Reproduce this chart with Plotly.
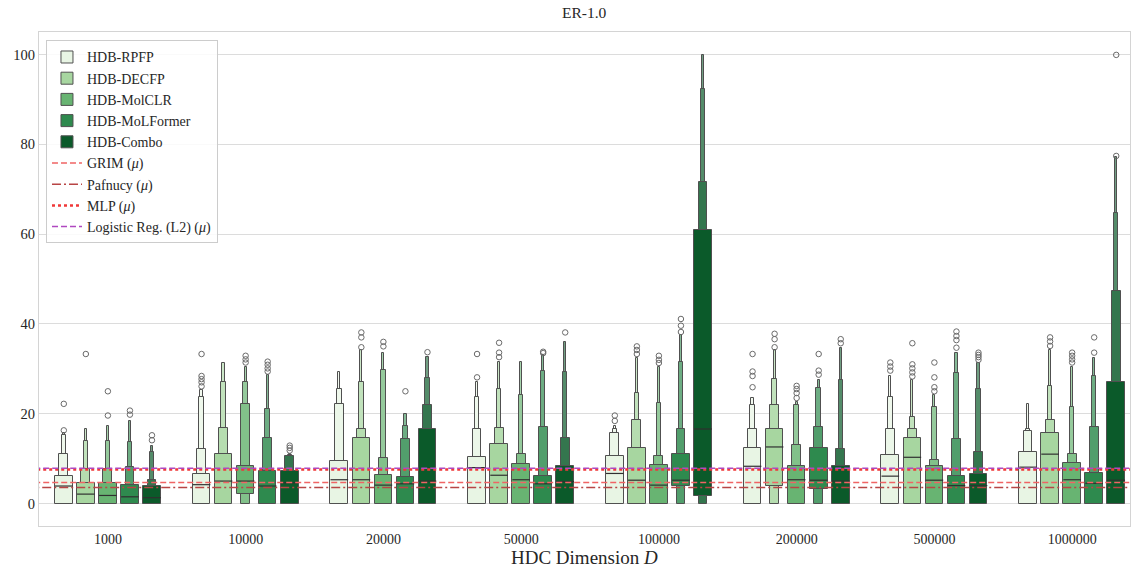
import plotly.graph_objects as go

dims = ["1000", "10000", "20000", "50000", "100000", "200000", "500000", "1000000"]
series = ["HDB-RPFP", "HDB-DECFP", "HDB-MolCLR", "HDB-MoLFormer", "HDB-Combo"]
colors = ["#e8f5e4", "#a7d6a0", "#68b472", "#2e8a4e", "#0b5a2a"]

# Letter-value boxes: upper edge per level (widest box first), lower edge of widest box
rpfp_median = [3.9, 4.2, 5.3, 8.0, 6.7, 8.3, 6.1, 8.1]
rpfp_low = [0, 0, 0, 0, 0, 0, 0, 0]
rpfp_upper = [[6.2, 11.0, 15.2, 15.7], [6.6, 12.1, 23.7, 25.3], [9.4, 22.1, 25.5, 29.3],
              [10.3, 16.6, 23.7, 27.0], [10.5, 15.7, 16.7, 17.2], [12.4, 16.6, 22.0, 23.5],
              [10.7, 16.6, 23.7, 28.4], [11.4, 16.2, 16.7, 22.2]]
rpfp_out = [[16.3, 22.2], [26.1, 27.0, 27.7, 28.4, 33.3], [], [28.1, 33.3],
            [18.4, 19.6], [25.9, 28.4, 29.4, 33.3], [29.6, 30.5, 31.4], []]

decfp_median = [2.1, 5.0, 5.3, 6.3, 5.2, 12.6, 10.3, 11.0]
decfp_low = [0, 0, 0, 0, 0, 3.9, 0, 0]
decfp_upper = [[4.6, 7.6, 14.0, 16.6], [11.0, 16.8, 27.0, 31.4], [14.6, 16.7, 27.0, 34.1],
               [13.3, 16.8, 25.5, 31.5], [12.4, 18.7, 24.7, 32.4], [16.6, 22.0, 27.7, 34.1],
               [14.6, 16.6, 19.2, 27.6], [15.7, 18.7, 26.2, 34.1]]
decfp_out = [[33.3], [], [34.8, 37.0, 38.1], [32.6, 33.6, 35.8], [33.3, 34.2, 35.0],
             [34.8, 36.6, 37.8], [28.3, 29.2, 30.1, 31.0, 35.7], [35.1, 36.1, 37.0]]

molclr_median = [1.8, 5.0, 4.1, 5.3, 4.1, 5.3, 5.2, 5.3]
molclr_low = [0, 2.2, 0, 0, 0, 0, 0, 0]
molclr_upper = [[4.6, 7.6, 14.0, 17.3], [8.4, 22.1, 27.0, 30.4], [6.4, 10.1, 29.8, 33.6],
                [8.9, 11.0, 24.1, 31.5], [8.6, 10.5, 22.4, 30.4], [8.4, 13.0, 22.0, 22.6],
                [8.4, 9.8, 21.6, 24.2], [9.0, 11.0, 21.6, 30.4]]
molclr_out = [[19.6, 25.0], [31.4, 32.1, 32.9], [35.0, 36.0], [], [31.3, 32.0, 32.9],
              [23.5, 24.6, 25.5, 26.2], [25.0, 25.9, 28.1, 31.4], [31.4, 32.1, 32.9, 33.6]]

molformer_median = [1.5, 3.9, 4.4, 4.4, 5.2, 5.2, 4.0, 4.5]
molformer_low = [0, 0, 0, 0, 3.9, 3.3, 0, 0]
molformer_upper = [[4.2, 8.1, 13.6, 18.4], [7.2, 14.6, 21.0, 28.7], [5.9, 14.4, 17.3, 19.9],
                   [6.1, 17.0, 29.6, 33.0], [11.0, 16.6, 31.6, 37.6], [12.4, 17.0, 25.7, 27.6],
                   [6.2, 14.4, 29.0, 33.6], [6.7, 17.0, 28.4, 32.5]]
molformer_out = [[19.8, 20.7], [29.4, 30.1, 30.9, 31.6], [25.0], [33.5, 33.8],
                 [38.2, 39.6, 41.1], [28.7, 29.6, 33.3], [34.7, 36.4, 37.3, 38.3], [33.6, 37.0]]

combo_median = [1.3, 4.6, 5.0, 4.9, 16.6, 5.0, 4.0, 5.2]
combo_low = [0, 0, 0, 0, 1.6, 0, 0, 0]
combo_upper = [[4.0, 5.2, 11.5, 12.9], [7.3, 10.5, 10.8, 11.0], [16.6, 21.9, 27.9, 32.6],
               [8.4, 14.6, 29.2, 35.9], [60.9, 71.5, 92.4, 99.9], [8.3, 12.2, 27.6, 34.6],
               [6.6, 11.4, 25.5, 31.3], [27.0, 47.4, 64.8, 77.2]]
combo_out = [[14.1, 15.2], [11.8, 12.4, 12.9], [33.7], [38.1], [], [35.7, 36.6],
             [32.0, 32.6, 33.1, 33.6], [77.4, 99.9]]

baseline_names = ["GRIM (<i>μ</i>)", "Pafnucy (<i>μ</i>)", "MLP (<i>μ</i>)", "Logistic Reg. (L2) (<i>μ</i>)"]
baseline_values = [4.7, 3.6, 7.6, 7.85]

medians = [rpfp_median, decfp_median, molclr_median, molformer_median, combo_median]
lows = [rpfp_low, decfp_low, molclr_low, molformer_low, combo_low]
uppers = [rpfp_upper, decfp_upper, molclr_upper, molformer_upper, combo_upper]
outs = [rpfp_out, decfp_out, molclr_out, molformer_out, combo_out]

FONT = "Liberation Serif"
EDGE = "#505050"
slot = 0.16
w0 = 0.128
nlev = 4


def lighten(hexc, t):
    r, g, b = int(hexc[1:3], 16), int(hexc[3:5], 16), int(hexc[5:7], 16)
    r = round(r + (255 - r) * t)
    g = round(g + (255 - g) * t)
    b = round(b + (255 - b) * t)
    return f"rgb({r},{g},{b})"


lev_t = [0.0, 0.17, 0.30, 0.42]

fig = go.Figure()
for s, name in enumerate(series):
    xs = [g + (s - 2) * slot for g in range(len(dims))]
    for lev in reversed(range(nlev)):
        w = w0 / (2 ** lev)
        bases = [lows[s][g] if lev == 0 else 0 for g in range(len(dims))]
        tops = [uppers[s][g][lev] for g in range(len(dims))]
        fig.add_trace(go.Bar(
            x=xs, y=[t - b for t, b in zip(tops, bases)], base=bases,
            width=[w] * len(xs), offset=[-w / 2] * len(xs),
            marker=dict(color=lighten(colors[s], lev_t[lev]), line=dict(color=EDGE, width=1)),
            name=name, showlegend=(lev == 0), legendrank=s + 1, hoverinfo="skip"))
    # median lines
    mx, my = [], []
    for g in range(len(dims)):
        mx += [xs[g] - w0 / 2, xs[g] + w0 / 2, None]
        my += [medians[s][g], medians[s][g], None]
    fig.add_trace(go.Scatter(x=mx, y=my, mode="lines", line=dict(color="#303030", width=1.2),
                             showlegend=False, hoverinfo="skip"))
    ox, oy = [], []
    for g in range(len(dims)):
        for v in outs[s][g]:
            ox.append(xs[g])
            oy.append(v)
    fig.add_trace(go.Scatter(x=ox, y=oy, mode="markers",
                             marker=dict(symbol="circle-open", size=5.5, color="#6a6a6a", line=dict(width=1)),
                             showlegend=False, hoverinfo="skip"))

line_styles = [
    dict(color="#f06464", width=1.5, dash="6px,3px"),
    dict(color="#b84545", width=1.5, dash="9px,3px,2px,3px"),
    dict(color="#f03838", width=2.5, dash="dot"),
    dict(color="#b048c0", width=1.5, dash="6px,3px"),
]
for i, (nm, v) in enumerate(zip(baseline_names, baseline_values)):
    fig.add_trace(go.Scatter(x=[-0.6, 7.6], y=[v, v], mode="lines", line=line_styles[i],
                             name=nm, legendrank=10 + i, hoverinfo="skip"))

fig.update_layout(
    width=1131, height=567,
    margin=dict(l=39, r=1, t=31.5, b=40.5, autoexpand=False),
    paper_bgcolor="white", plot_bgcolor="white",
    barmode="overlay", bargap=0,
    font=dict(family=FONT, size=14, color="#262626"),
    legend=dict(x=0.0064, y=0.983, xanchor="left", yanchor="top",
                bgcolor="rgba(255,255,255,0.85)", bordercolor="#cccccc", borderwidth=1,
                font=dict(family=FONT, size=14, color="#262626"), itemwidth=30,
                tracegroupgap=0, traceorder="normal"),
    showlegend=True,
    annotations=[
        dict(text="ER-1.0", xref="paper", yref="paper", x=0.5, y=1, yshift=20,
             xanchor="center", yanchor="middle", showarrow=False,
             font=dict(family=FONT, size=15.5, color="#262626")),
        dict(text="HDC Dimension <i>D</i>", xref="paper", yref="paper", x=0.5, y=0, yshift=-31,
             xanchor="center", yanchor="middle", showarrow=False,
             font=dict(family=FONT, size=19, color="#262626")),
    ],
)
fig.update_xaxes(
    range=[-0.5, 7.42], tickmode="array", tickvals=list(range(len(dims))), ticktext=dims,
    showgrid=False, zeroline=False, showline=True, mirror=True, linecolor="#d4d4d4", linewidth=1,
    ticks="", tickfont=dict(family=FONT, size=14), automargin=False,
)
fig.update_yaxes(
    range=[-5, 105], tickmode="array", tickvals=[0, 20, 40, 60, 80, 100],
    showgrid=True, gridcolor="#dcdcdc", gridwidth=1, zeroline=False,
    showline=True, mirror=True, linecolor="#d4d4d4", linewidth=1, ticks="",
    tickfont=dict(family=FONT, size=14.5), automargin=False,
)

fig.write_html("out.html", config={"displayModeBar": False},
               post_script="document.body.style.margin='0px';document.body.style.padding='0px';")
